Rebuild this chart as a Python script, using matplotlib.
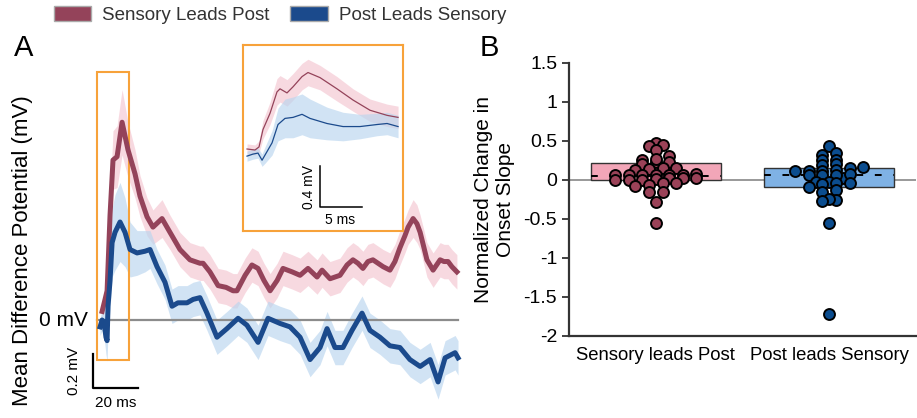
import numpy as np
import matplotlib.pyplot as plt
from matplotlib.patches import Patch, Rectangle

plt.rcParams['font.family'] = ['Liberation Sans', 'DejaVu Sans']
plt.rcParams['axes.unicode_minus'] = False

# colours
red = '#94435a'
red_band = '#f5c9d4'
blue = '#1b4a8c'
blue_band = '#b9d5ef'
orange = '#f7a23a'

# ---- panel A: mean difference potential (time in ms, potential in mV)
red_t = [1.8, 3.1, 4.0, 5.3, 6.2, 6.6, 8.4, 10.6, 13.2, 16.3, 18.5, 21.6, 24.2,
         28.2, 31.7, 36.1, 40.5, 44.9, 46.3, 49.3, 52.9, 56.4, 59.5, 61.2, 64.8,
         67.8, 70.5, 73.1, 75.8, 78.9, 81.5, 85.5, 89.0, 92.5, 96.5, 98.7, 102.2,
         106.6, 109.7, 112.3, 114.5, 116.7, 118.9, 121.1, 125.6, 128.6, 130.8,
         133.0, 135.2, 136.6, 138.8, 140.5, 141.9, 143.6, 144.9, 147.6, 150.7,
         152.4, 154.2, 155.9, 158.1]
red_mean = [0.05, 0.12, 0.17, 0.61, 0.83, 0.93, 0.95, 1.15, 0.99, 0.85, 0.72, 0.60,
            0.54, 0.59, 0.51, 0.41, 0.35, 0.33, 0.33, 0.28, 0.20, 0.19, 0.17, 0.17,
            0.26, 0.32, 0.30, 0.23, 0.17, 0.23, 0.30, 0.28, 0.26, 0.30, 0.25, 0.29,
            0.24, 0.26, 0.32, 0.35, 0.33, 0.30, 0.34, 0.35, 0.31, 0.29, 0.34, 0.42,
            0.49, 0.54, 0.59, 0.56, 0.51, 0.42, 0.35, 0.29, 0.35, 0.34, 0.34, 0.31,
            0.28]
red_sem = [0.04, 0.05, 0.08, 0.12, 0.15, 0.17, 0.18, 0.19, 0.16, 0.14, 0.12, 0.11,
           0.10, 0.11, 0.10, 0.10, 0.10, 0.10, 0.10, 0.10, 0.10, 0.10, 0.10, 0.10,
           0.10, 0.10, 0.10, 0.10, 0.10, 0.10, 0.10, 0.10, 0.10, 0.10, 0.10, 0.10,
           0.10, 0.10, 0.10, 0.10, 0.10, 0.10, 0.10, 0.10, 0.10, 0.10, 0.10, 0.10,
           0.10, 0.10, 0.11, 0.11, 0.10, 0.10, 0.10, 0.10, 0.10, 0.10, 0.10, 0.10,
           0.10]

blue_t = [0.9, 1.8, 2.6, 3.5, 4.0, 4.4, 5.3, 6.2, 7.5, 9.7, 11.9, 14.1, 17.2, 20.7,
          22.9, 26.0, 29.5, 32.6, 35.2, 39.2, 41.9, 44.9, 48.0, 52.4, 56.8, 61.7,
          65.6, 70.5, 74.9, 80.2, 84.6, 89.0, 93.4, 97.8, 100.9, 104.4, 107.9,
          111.9, 116.3, 119.8, 124.2, 128.6, 133.0, 137.4, 141.9, 146.3, 149.8,
          152.9, 157.3, 158.6]
blue_mean = [-0.04, 0.00, -0.01, -0.10, -0.12, 0.08, 0.23, 0.45, 0.51, 0.57, 0.51,
             0.41, 0.39, 0.40, 0.41, 0.31, 0.22, 0.08, 0.10, 0.10, 0.12, 0.13, 0.04,
             -0.10, -0.05, 0.01, -0.03, -0.13, 0.01, -0.02, -0.04, -0.10, -0.23,
             -0.16, -0.05, -0.16, -0.16, -0.06, 0.04, -0.06, -0.10, -0.15, -0.16,
             -0.23, -0.27, -0.23, -0.36, -0.22, -0.19, -0.22]
blue_sem = [0.05, 0.06, 0.08, 0.10, 0.12, 0.14, 0.17, 0.20, 0.22, 0.23, 0.20, 0.16,
            0.13, 0.12, 0.11, 0.10, 0.10, 0.10, 0.10, 0.10, 0.10, 0.10, 0.10, 0.10,
            0.10, 0.10, 0.10, 0.10, 0.10, 0.10, 0.10, 0.10, 0.10, 0.10, 0.10, 0.10,
            0.10, 0.10, 0.10, 0.10, 0.10, 0.10, 0.10, 0.10, 0.10, 0.10, 0.10, 0.10,
            0.10, 0.10]

# zoomed view of the onset
ins_red_t = [0, 0.95, 1.43, 1.9, 2.74, 3.57, 3.93, 4.76, 5.48, 6.55, 7.26, 8.69,
             10.71, 12.62, 14.64, 16.67, 17.98]
ins_red_mean = [0.0, -0.01, 0.02, 0.19, 0.35, 0.56, 0.59, 0.55, 0.61, 0.71, 0.75,
                0.70, 0.59, 0.48, 0.38, 0.33, 0.31]
ins_red_sem = [0.05, 0.05, 0.06, 0.09, 0.11, 0.13, 0.13, 0.13, 0.13, 0.13, 0.13,
               0.12, 0.12, 0.11, 0.11, 0.11, 0.11]
ins_blue_t = [0, 0.71, 1.31, 1.79, 2.14, 2.98, 3.69, 4.52, 5.48, 6.55, 7.5, 9.52,
              11.43, 13.45, 15.48, 16.67, 17.98]
ins_blue_mean = [-0.07, -0.05, -0.04, -0.11, -0.06, 0.06, 0.24, 0.30, 0.31, 0.34,
                 0.30, 0.25, 0.22, 0.22, 0.24, 0.25, 0.22]
ins_blue_sem = [0.05, 0.05, 0.05, 0.06, 0.08, 0.12, 0.16, 0.19, 0.20, 0.20, 0.19,
                0.16, 0.14, 0.12, 0.11, 0.11, 0.11]

# ---- panel B: normalized change in onset slope
groups = ['Sensory leads Post', 'Post leads Sensory']
slope_sensory_post = [0.48, 0.45, 0.44, 0.38, 0.31, 0.25, 0.23, 0.27, 0.23, 0.20,
                      0.16, 0.14, 0.13, 0.15, 0.08, 0.07, 0.06, 0.06, 0.06, 0.07,
                      0.07, 0.00, 0.01, 0.02, 0.00, 0.03, 0.02, 0.00, -0.04, -0.06,
                      -0.08, -0.04, -0.16, -0.15, -0.28, -0.55]
slope_post_sensory = [0.43, 0.32, 0.34, 0.26, 0.25, 0.16, 0.19, 0.20, 0.17, 0.13,
                      0.11, 0.11, 0.11, 0.02, 0.06, 0.08, 0.06, 0.07, -0.04, -0.02,
                      -0.03, -0.04, -0.05, -0.15, -0.09, -0.13, -0.26, -0.24, -0.27,
                      -0.55, -1.72]
box_q1 = [0.0, -0.09]
box_q3 = [0.22, 0.15]
box_median = [0.05, 0.06]
box_colors = ['#f2a6b8', '#7fb2e5']
dot_colors = ['#9b4258', '#0b4d8f']


def column_scatter(values, center, row_h=0.07, col_w=0.078):
    """Spread points sideways within rows of similar value (Prism-style)."""
    values = np.asarray(values, dtype=float)
    rows = np.round(values / row_h)
    xs = np.zeros_like(values)
    for r in np.unique(rows):
        idx = np.where(rows == r)[0]
        idx = idx[np.argsort(values[idx])]
        n = len(idx)
        xs[idx] = center + (np.arange(n) - (n - 1) / 2) * col_w
    return xs, values


fig = plt.figure(figsize=(9.17, 4.18), dpi=100)

# ---------------- panel A
ax = fig.add_axes([0.0927, 0.0431, 0.4144, 0.8134])
ax.set_xlim(-5.73, 161.67)
ax.set_ylim(-0.465, 1.512)
ax.axis('off')

ax.fill_between(red_t, np.array(red_mean) - red_sem, np.array(red_mean) + red_sem,
                color=red_band, alpha=0.7, lw=0, zorder=1)
ax.fill_between(blue_t, np.array(blue_mean) - blue_sem, np.array(blue_mean) + blue_sem,
                color=blue_band, alpha=0.65, lw=0, zorder=1)
ax.plot([-0.44, 158.6], [0, 0], color='#8c8c8c', lw=1.6, zorder=2)
ax.add_patch(Rectangle((-0.44, -0.233), 14.1, 1.673, fill=False,
                       edgecolor=orange, lw=1.5, zorder=2))
ax.plot(red_t, red_mean, color=red, lw=3.6, solid_joinstyle='round', zorder=3)
ax.plot(blue_t, blue_mean, color=blue, lw=3.6, solid_joinstyle='round', zorder=4)

ax.text(-4.4, 0, '0 mV', ha='right', va='center', fontsize=15, clip_on=False)

# scale bar
ax.plot([-2.2, -2.2, 17.8], [-0.195, -0.395, -0.395], color='black', lw=1.6,
        clip_on=False)
ax.text(-10.5, -0.295, '0.2 mV', rotation=90, ha='center', va='center', fontsize=11)
ax.text(7.8, -0.44, '20 ms', ha='center', va='top', fontsize=11)

fig.text(0.024, 0.40, 'Mean Difference Potential (mV)', rotation=90,
         ha='center', va='center', fontsize=16)
fig.text(0.015, 0.885, 'A', fontsize=21, ha='left', va='center')

# inset
axi = fig.add_axes([0.265, 0.4474, 0.1745, 0.445])
axi.set_xlim(-0.476, 18.57)
axi.set_ylim(-0.804, 1.02)
axi.set_xticks([])
axi.set_yticks([])
for sp in axi.spines.values():
    sp.set_color(orange)
    sp.set_linewidth(1.5)
axi.fill_between(ins_red_t, np.array(ins_red_mean) - ins_red_sem,
                 np.array(ins_red_mean) + ins_red_sem, color=red_band, alpha=0.7, lw=0)
axi.fill_between(ins_blue_t, np.array(ins_blue_mean) - ins_blue_sem,
                 np.array(ins_blue_mean) + ins_blue_sem, color=blue_band, alpha=0.65, lw=0)
axi.plot(ins_red_t, ins_red_mean, color=red, lw=0.9)
axi.plot(ins_blue_t, ins_blue_mean, color=blue, lw=0.9)
axi.plot([8.69, 8.69, 13.69], [-0.17, -0.57, -0.57], color='black', lw=1.1)
axi.text(8.2, -0.37, '0.4 mV', rotation=90, ha='right', va='center', fontsize=10)
axi.text(11.1, -0.63, '5 ms', ha='center', va='top', fontsize=10)

# ---------------- panel B
axb = fig.add_axes([0.6205, 0.1962, 0.3784, 0.6531])
for i in range(2):
    axb.bar(i, box_q3[i] - box_q1[i], bottom=box_q1[i], width=0.75,
            color=box_colors[i], edgecolor='#333333', lw=1.0, zorder=1)
    axb.hlines(box_median[i], i - 0.375, i + 0.375, colors='black', lw=1.4,
               linestyles=(0, (3.5, 6)), zorder=2)
axb.axhline(0, color='#999999', lw=1.4, zorder=0.5)

for i, vals in enumerate([slope_sensory_post, slope_post_sensory]):
    xs, ys = column_scatter(vals, i)
    axb.scatter(xs, ys, s=62, color=dot_colors[i], edgecolor='black',
                linewidth=1.4, zorder=3)

axb.set_xlim(-0.5, 1.5)
axb.set_ylim(-2, 1.5)
axb.set_xticks([0, 1])
axb.set_xticklabels(groups)
axb.set_yticks([-2, -1.5, -1, -0.5, 0, 0.5, 1, 1.5])
axb.set_yticklabels(['-2', '-1.5', '-1', '-0.5', '0', '0.5', '1', '1.5'])
axb.tick_params(axis='y', labelsize=14, length=5, width=1.3, color='#333333')
axb.tick_params(axis='x', labelsize=13.3, length=0, pad=8)
axb.set_ylabel('Normalized Change in\nOnset Slope', fontsize=15, labelpad=6)
for s in ['top', 'right']:
    axb.spines[s].set_visible(False)
for s in ['left', 'bottom']:
    axb.spines[s].set_linewidth(1.6)
    axb.spines[s].set_color('#333333')
fig.text(0.523, 0.885, 'B', fontsize=21, ha='left', va='center')

# legend
handles = [Patch(facecolor=red, edgecolor='#aaaaaa', label='Sensory Leads Post'),
           Patch(facecolor=blue, edgecolor='#aaaaaa', label='Post Leads Sensory')]
fig.legend(handles=handles, loc='center left', bbox_to_anchor=(0.040, 0.965),
           ncol=2, frameon=False, fontsize=13.5, handlelength=2.0, handleheight=0.9,
           handletextpad=0.6, columnspacing=1.1, labelcolor='#333333')

fig.savefig('out.png', dpi=100)
